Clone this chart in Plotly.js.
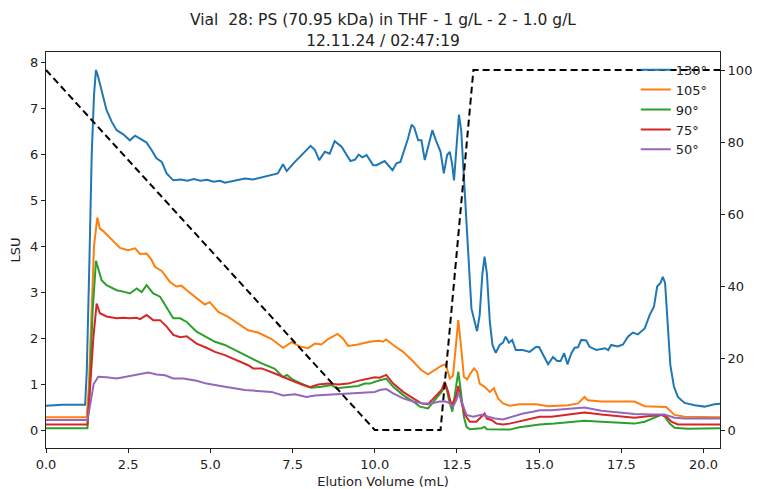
<!DOCTYPE html>
<html>
<head>
<meta charset="utf-8">
<script src="https://cdn.plot.ly/plotly-3.0.1.min.js"></script>
<style>html,body{margin:0;padding:0;background:#fff;}#chart{width:759px;height:489px;}</style>
</head>
<body>
<div id="chart"></div>
<script>
// ---- data ----
const seriesNames = ["130°", "105°", "90°", "75°", "50°"];
const seriesColors = ["#1f77b4", "#ff7f0e", "#2ca02c", "#d62728", "#9467bd"];

const x130 = [0,0.5,1.19,1.24,1.32,1.39,1.46,1.52,1.58,1.69,1.84,2.0,2.15,2.35,2.55,2.71,2.86,3.06,3.21,3.36,3.52,3.67,3.87,4.1,4.3,4.5,4.7,4.9,5.1,5.3,5.44,5.7,6.05,6.3,6.6,6.86,7.05,7.21,7.32,7.57,7.87,8.05,8.18,8.31,8.48,8.63,8.78,8.99,9.26,9.40,9.51,9.62,9.75,9.95,10.05,10.30,10.54,10.66,10.78,10.91,11.01,11.12,11.20,11.32,11.42,11.52,11.65,11.75,11.86,12.0,12.1,12.2,12.28,12.35,12.41,12.50,12.56,12.63,12.70,12.79,12.87,12.94,13.04,13.11,13.19,13.27,13.34,13.41,13.50,13.58,13.68,13.80,13.90,13.98,14.08,14.18,14.29,14.50,14.71,14.91,15.0,15.12,15.27,15.42,15.55,15.65,15.76,15.86,15.98,16.08,16.18,16.28,16.43,16.53,16.74,17.0,17.1,17.19,17.39,17.55,17.70,17.85,18.0,18.21,18.36,18.49,18.59,18.69,18.76,18.83,18.91,18.99,19.10,19.22,19.42,19.73,20.03,20.33,20.5];
const y130 = [0.53,0.55,0.55,1.27,3.66,5.98,7.28,7.83,7.70,7.36,6.96,6.70,6.52,6.43,6.30,6.40,6.34,6.25,6.09,5.91,5.83,5.58,5.43,5.45,5.42,5.46,5.42,5.44,5.40,5.42,5.38,5.42,5.47,5.45,5.50,5.54,5.58,5.78,5.63,5.83,6.05,6.18,6.09,5.87,6.05,6.01,6.28,6.16,5.85,5.88,5.99,5.93,5.98,5.76,5.76,5.85,5.65,5.80,5.83,6.12,6.34,6.64,6.58,6.30,6.30,5.87,6.27,6.52,6.30,6.05,5.58,5.98,6.05,5.80,5.43,6.30,6.86,6.50,5.62,4.53,3.44,2.64,2.35,2.15,2.50,3.37,3.77,3.40,2.35,1.85,1.68,1.85,1.90,2.03,1.90,1.96,1.74,1.74,1.70,1.81,1.80,1.63,1.43,1.59,1.50,1.50,1.67,1.43,1.67,1.79,1.80,1.96,1.95,1.81,1.74,1.78,1.74,1.85,1.82,1.86,2.03,2.12,2.08,2.21,2.50,2.68,3.12,3.20,3.33,3.20,2.35,1.41,0.94,0.72,0.59,0.54,0.51,0.56,0.57];

const x105 = [0,1.24,1.30,1.38,1.46,1.56,1.64,1.75,1.95,2.25,2.50,2.71,2.86,3.06,3.21,3.31,3.52,3.77,3.97,4.12,4.28,4.58,4.83,4.98,5.24,5.54,5.85,6.15,6.45,6.86,7.21,7.47,7.72,7.97,8.18,8.38,8.58,8.87,9.03,9.19,9.49,9.70,9.95,10.15,10.25,10.35,10.56,10.86,11.17,11.42,11.62,11.82,12.03,12.16,12.28,12.38,12.46,12.54,12.61,12.71,12.81,12.89,13.02,13.11,13.19,13.34,13.50,13.62,13.75,13.90,14.10,14.40,14.91,15.27,15.88,16.18,16.38,16.48,16.89,17.39,17.90,18.21,18.55,18.86,19.12,19.42,20.5];
const y105 = [0.28,0.28,0.9,2.6,4.0,4.62,4.38,4.32,4.17,3.96,3.91,3.95,3.83,3.84,3.70,3.55,3.46,3.22,3.12,3.14,3.04,2.86,2.73,2.78,2.57,2.46,2.32,2.17,2.12,1.98,1.79,1.91,1.82,1.78,1.88,1.86,1.98,2.09,1.99,1.83,1.86,1.90,1.93,1.94,1.92,1.97,1.85,1.70,1.49,1.30,1.21,1.30,1.40,1.43,1.12,1.18,1.85,2.39,1.92,1.16,1.10,1.21,1.34,1.27,1.01,0.94,0.83,0.91,0.69,0.58,0.53,0.56,0.56,0.52,0.54,0.58,0.72,0.65,0.62,0.62,0.62,0.52,0.51,0.50,0.33,0.29,0.28];

const x90 = [0,1.26,1.32,1.42,1.52,1.59,1.69,1.84,2.15,2.35,2.55,2.76,2.91,3.06,3.26,3.47,3.67,3.87,4.08,4.28,4.58,4.88,5.14,5.44,5.74,6.15,6.56,6.96,7.21,7.33,7.52,7.77,8.07,8.38,8.68,8.84,9.19,9.49,9.70,9.85,10.05,10.35,10.56,10.86,11.17,11.37,11.62,11.82,12.03,12.16,12.26,12.36,12.46,12.54,12.62,12.71,12.79,12.89,13.24,13.34,13.41,14.10,14.40,14.71,15.01,15.47,15.88,16.38,16.89,17.39,17.90,18.21,18.46,18.71,18.81,18.97,19.12,19.52,20.5];
const y90 = [0.04,0.04,0.8,2.6,3.68,3.50,3.26,3.15,3.04,3.01,2.97,3.08,3.00,3.15,2.97,2.90,2.68,2.43,2.43,2.35,2.14,2.03,1.92,1.85,1.74,1.59,1.45,1.33,1.15,1.20,1.09,1.01,0.92,0.94,0.98,0.91,0.93,0.96,1.01,1.01,1.06,1.12,0.94,0.76,0.62,0.51,0.47,0.65,0.83,0.98,0.65,0.40,0.83,1.27,0.83,0.29,0.07,0.02,0.04,0.07,0.02,0.01,0.06,0.09,0.12,0.14,0.16,0.20,0.18,0.16,0.14,0.18,0.25,0.33,0.30,0.14,0.05,0.03,0.04];

const x75 = [0,1.26,1.32,1.44,1.54,1.64,1.84,2.15,2.35,2.55,2.76,2.86,3.06,3.26,3.47,3.67,3.87,4.08,4.28,4.58,4.88,5.14,5.44,5.85,6.15,6.30,6.56,6.96,7.26,7.57,7.82,8.02,8.28,8.58,8.89,9.19,9.49,9.80,10.0,10.15,10.35,10.56,10.86,11.17,11.42,11.62,11.88,12.03,12.13,12.23,12.33,12.46,12.54,12.63,12.74,12.89,13.09,13.24,13.34,13.41,13.55,13.70,13.90,14.10,14.40,14.71,15.01,15.37,15.88,16.38,16.89,17.39,17.90,18.31,18.71,18.86,19.02,19.22,20.5];
const y75 = [0.12,0.12,0.7,2.0,2.75,2.54,2.47,2.43,2.44,2.43,2.44,2.41,2.50,2.39,2.39,2.25,2.07,2.02,2.04,1.88,1.79,1.70,1.63,1.50,1.41,1.34,1.34,1.23,1.15,1.05,0.98,0.93,0.99,1.01,0.99,1.01,1.07,1.12,1.15,1.14,1.20,1.01,0.83,0.69,0.58,0.56,0.76,0.87,1.05,0.83,0.54,0.70,0.96,0.62,0.33,0.18,0.18,0.29,0.36,0.25,0.22,0.14,0.12,0.14,0.19,0.23,0.29,0.29,0.33,0.38,0.34,0.30,0.27,0.30,0.33,0.30,0.18,0.12,0.12];

const x50 = [0,1.26,1.33,1.45,1.59,1.84,2.15,2.45,2.76,3.11,3.36,3.62,3.87,4.18,4.58,4.88,5.44,6.05,6.86,7.21,7.57,7.92,8.18,8.58,8.99,9.49,10.0,10.15,10.35,10.56,10.86,11.17,11.47,11.72,11.97,12.16,12.28,12.38,12.48,12.56,12.64,12.79,12.99,13.24,13.44,13.65,13.90,14.20,14.51,14.81,15.01,15.37,15.88,16.38,16.89,17.39,17.90,18.40,18.81,19.12,19.42,20.5];
const y50 = [0.22,0.22,0.5,1.0,1.16,1.15,1.12,1.16,1.19,1.25,1.21,1.19,1.12,1.12,1.07,1.01,0.94,0.87,0.83,0.75,0.78,0.72,0.75,0.77,0.78,0.80,0.83,0.87,0.89,0.80,0.69,0.62,0.58,0.58,0.62,0.62,0.58,0.51,0.65,0.83,0.62,0.33,0.29,0.33,0.29,0.25,0.23,0.29,0.36,0.40,0.43,0.43,0.46,0.49,0.42,0.38,0.35,0.34,0.34,0.27,0.25,0.25];

// solvent gradient (right axis, %)
const xGrad = [0, 10, 12, 13, 20.5];
const yGrad = [100, 0, 0, 100, 100];

const xTickVals = [0, 2.5, 5, 7.5, 10, 12.5, 15, 17.5, 20];
const titleLines = ["Vial\u00a0 28: PS (70.95 kDa) in THF - 1 g/L - 2 - 1.0 g/L", "12.11.24 / 02:47:19"];

// ---- build traces ----
const xs = [x130, x105, x90, x75, x50];
const ys = [y130, y105, y90, y75, y50];
const traces = xs.map((x, i) => ({
  x: x, y: ys[i], type: "scatter", mode: "lines", name: seriesNames[i],
  line: {color: seriesColors[i], width: 2}, xaxis: "x", yaxis: "y"
}));
traces.push({
  x: xGrad, y: yGrad, type: "scatter", mode: "lines", showlegend: false,
  line: {color: "#000000", width: 2, dash: "7px,4px"}, xaxis: "x", yaxis: "y2"
});

const FONT = "DejaVu Sans, sans-serif";
const layout = {
  width: 759, height: 489,
  margin: {l: 46, r: 39, t: 52, b: 41, pad: 0},
  paper_bgcolor: "#ffffff", plot_bgcolor: "#ffffff",
  font: {family: FONT, size: 13, color: "#222"},
  title: {text: titleLines.join("<br>"), font: {family: FONT, size: 15.5, color: "#222"},
          x: 0.5, xref: "paper", xanchor: "center", y: 0.948, yref: "container", yanchor: "top"},
  showlegend: true,
  legend: {x: 0.875, y: 0.993, xanchor: "left", yanchor: "top", bgcolor: "rgba(0,0,0,0)",
           borderwidth: 0, font: {family: FONT, size: 13, color: "#222"}, tracegroupgap: 0},
  xaxis: {range: [0, 20.5], tickvals: xTickVals, tickformat: ".1f", ticks: "outside", ticklen: 4,
          tickcolor: "#222", showgrid: false, zeroline: false, showline: true, linecolor: "#222",
          linewidth: 1, mirror: true,
          title: {text: "Elution Volume (mL)", font: {family: FONT, size: 13, color: "#222"}, standoff: 6}},
  yaxis: {range: [-0.39, 8.22], dtick: 1, tick0: 0, ticks: "outside", ticklen: 4, tickcolor: "#222",
          showgrid: false, zeroline: false, showline: true, linecolor: "#222", linewidth: 1,
          title: {text: "LSU", font: {family: FONT, size: 13, color: "#222"}, standoff: 6}},
  yaxis2: {range: [-5, 105], dtick: 20, tick0: 0, overlaying: "y", side: "right", ticks: "outside",
           ticklen: 4, tickcolor: "#222", showgrid: false, zeroline: false, showline: true,
           linecolor: "#222", linewidth: 1}
};

Plotly.newPlot("chart", traces, layout, {displayModeBar: false, staticPlot: true});
</script>
</body>
</html>
